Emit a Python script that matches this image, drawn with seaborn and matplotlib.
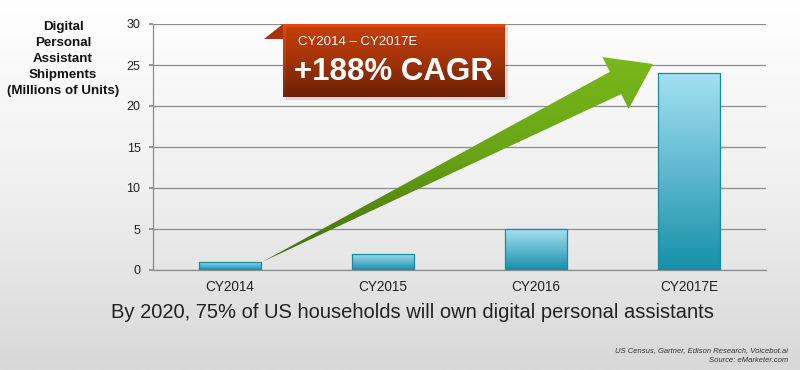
import numpy as np
import pandas as pd
import seaborn as sns
import matplotlib.pyplot as plt
from matplotlib.colors import LinearSegmentedColormap
from matplotlib.patches import Polygon, Rectangle

years = ["CY2014", "CY2015", "CY2016", "CY2017E"]
shipments = [1, 2, 5, 24]
y_ticks = [0, 5, 10, 15, 20, 25, 30]

sns.set_theme(style="white")
plt.rcParams["font.family"] = ["Liberation Sans", "DejaVu Sans"]

df = pd.DataFrame({"year": years, "shipments": shipments})

fig = plt.figure(figsize=(8, 3.7), dpi=100)

# background gradient, pixel coords
bg = fig.add_axes([0, 0, 1, 1], zorder=0)
bg.axis("off")
bg_cmap = LinearSegmentedColormap.from_list("bg", ["#ffffff", "#f0f0f0", "#d8d8d8"])
bg.imshow(np.linspace(0, 1, 256).reshape(-1, 1), cmap=bg_cmap, aspect="auto",
          extent=[0, 800, 370, 0])
bg.set_xlim(0, 800)
bg.set_ylim(370, 0)

ax = fig.add_axes([153 / 800, 100 / 370, 613 / 800, 246 / 370], zorder=1)
ax.patch.set_visible(False)
sns.barplot(data=df, x="year", y="shipments", ax=ax, width=0.405,
            color="#5bbbd3", edgecolor="#1a8aa0", linewidth=0.9, zorder=3)

bar_cmap = LinearSegmentedColormap.from_list("bar", ["#a4e0f2", "#5fb8d0", "#1590a8"])
for p in ax.patches:
    x0, y0 = p.get_x(), p.get_y()
    w, h = p.get_width(), p.get_height()
    im = ax.imshow(np.linspace(0, 1, 256).reshape(-1, 1), cmap=bar_cmap, aspect="auto",
                   extent=[x0, x0 + w, y0, y0 + h], origin="upper", zorder=3.5)
    im.set_clip_path(p)
    p.set_facecolor("none")
    p.set_zorder(4)

ax.set_xlim(-0.5, 3.5)
ax.set_ylim(0, 30)
ax.set_yticks(y_ticks)
ax.yaxis.grid(True, color="#8c8c8c", linewidth=0.9)
ax.set_axisbelow(True)
ax.set_xlabel("")
ax.set_ylabel("")
for side in ["top", "right"]:
    ax.spines[side].set_visible(False)
for side in ["left", "bottom"]:
    ax.spines[side].set_color("#8c8c8c")
    ax.spines[side].set_linewidth(0.9)
ax.tick_params(axis="y", left=True, length=3, color="#8c8c8c", labelsize=9,
               labelcolor="#222222", pad=6)
ax.tick_params(axis="x", bottom=False, labelsize=9.8, labelcolor="#222222", pad=1)

# annotations, pixel coords
an = fig.add_axes([0, 0, 1, 1], zorder=2)
an.axis("off")
an.patch.set_visible(False)

fig.text(63 / 800, 1 - 59 / 370,
         "Digital\nPersonal\nAssistant\nShipments\n(Millions of Units)",
         ha="center", va="center", fontsize=9.6, fontweight="bold",
         color="#111111", linespacing=1.45)

# green growth arrow
start = np.array([262.0, 262.0])
tip = np.array([653.0, 64.0])
u = (tip - start) / np.linalg.norm(tip - start)
n = np.array([-u[1], u[0]])
head_len, head_w, shaft_w = 42, 58, 25
base = tip - head_len * u
pts = [start,
       base + n * shaft_w / 2,
       base + n * head_w / 2,
       tip,
       base - n * head_w / 2,
       base - n * shaft_w / 2]
arrow = Polygon(pts, closed=True, facecolor="none", edgecolor="none")
an.add_patch(arrow)
arrow_cmap = LinearSegmentedColormap.from_list("arr", ["#7cbb1c", "#68a416", "#3f6a0b"])
im = an.imshow(np.linspace(0, 1, 256).reshape(-1, 1), cmap=arrow_cmap, aspect="auto",
               extent=[250, 670, 265, 45])
im.set_clip_path(arrow)

# orange callout with a soft shadow
an.add_patch(Rectangle((286, 27), 222, 73, facecolor="#000000", alpha=0.12,
                       edgecolor="none"))
an.add_patch(Polygon([[264, 39], [283, 24], [283, 39]], closed=True,
                     facecolor="#a8330c", edgecolor="none"))
box = Rectangle((283, 24), 222, 73, facecolor="none", edgecolor="none")
an.add_patch(box)
box_cmap = LinearSegmentedColormap.from_list("box", ["#e4490f", "#b93a0b", "#7a2407"])
im = an.imshow(np.linspace(0, 1, 256).reshape(-1, 1), cmap=box_cmap, aspect="auto",
               extent=[283, 505, 97, 24])
im.set_clip_path(box)
an.set_xlim(0, 800)
an.set_ylim(370, 0)

an.text(298, 42, "CY2014 – CY2017E", color="white", fontsize=9.5, va="center", ha="left")
an.text(294, 72, "+188% CAGR", color="white", fontsize=22.5, fontweight="bold",
        va="center", ha="left")

an.text(412, 312, "By 2020, 75% of US households will own digital personal assistants",
        ha="center", va="center", fontsize=14.5, color="#222222")
an.text(788, 351, "US Census, Gartner, Edison Research, Voicebot.ai", ha="right",
        va="center", fontsize=5.5, style="italic", color="#333333")
an.text(788, 360, "Source: eMarketer.com", ha="right", va="center", fontsize=5.5,
        style="italic", color="#333333")

fig.savefig("out.png", dpi=100)
